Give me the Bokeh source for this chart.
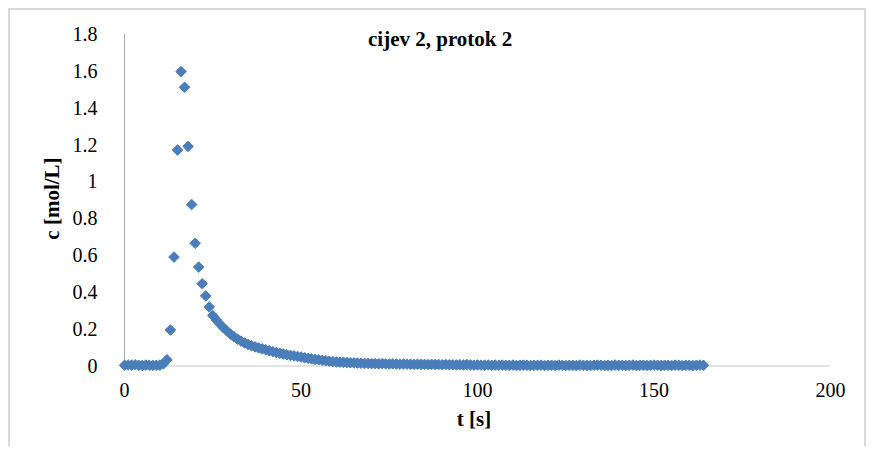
import numpy as np
from bokeh.plotting import figure
from bokeh.models import Range1d, FixedTicker, Label
from bokeh.embed import file_html
from bokeh.resources import INLINE

# ---- data ----
c = [
    0.004, 0.006, 0.005, 0.007, 0.004, 0.003, 0.005, 0.004, 0.003, 0.004, 0.005, 0.012,   # 0-11
    0.034, 0.195, 0.590, 1.170, 1.595, 1.510, 1.190, 0.875, 0.665, 0.536, 0.446, 0.380,   # 12-23
    0.320, 0.273, 0.250, 0.228, 0.208, 0.190, 0.173, 0.158, 0.146, 0.135, 0.125, 0.117,   # 24-35
    0.110, 0.104, 0.098, 0.093, 0.088, 0.083, 0.078, 0.073, 0.069, 0.065, 0.061, 0.058,   # 36-47
    0.055, 0.052, 0.049, 0.045, 0.042, 0.039, 0.036, 0.034, 0.031, 0.029, 0.026, 0.024,   # 48-59
    0.022, 0.021, 0.020, 0.019, 0.018, 0.017, 0.016, 0.015, 0.014, 0.014, 0.013,          # 60-70
    0.013, 0.012, 0.013, 0.012, 0.011, 0.012, 0.011, 0.010, 0.011, 0.010, 0.010, 0.009,   # 71-82
    0.010, 0.009, 0.009, 0.008, 0.009,                                                    # 83-87
    0.008, 0.008, 0.007, 0.008, 0.007, 0.007, 0.006, 0.007, 0.006, 0.008, 0.006, 0.005,   # 88-99
    0.006, 0.005, 0.005, 0.006, 0.004, 0.005, 0.004,                                      # 100-106
    0.005, 0.004, 0.004, 0.005, 0.003, 0.004, 0.005, 0.004, 0.003, 0.004, 0.004, 0.005,   # 107-118
    0.003, 0.004, 0.004, 0.003, 0.005, 0.004, 0.003, 0.004, 0.004, 0.003, 0.005, 0.004,   # 119-130
    0.003, 0.003, 0.004, 0.005, 0.004, 0.003, 0.004, 0.003, 0.005, 0.004, 0.004, 0.003,   # 131-142
    0.004, 0.005, 0.003, 0.004, 0.004, 0.003, 0.004, 0.005, 0.004, 0.003, 0.004, 0.004,   # 143-154
    0.003, 0.005, 0.004, 0.003, 0.004, 0.004, 0.003, 0.004, 0.005, 0.004,                 # 155-164
]
t = list(range(0, len(c)))

x_ticks = [0, 50, 100, 150, 200]
y_ticks = [0, 0.2, 0.4, 0.6, 0.8, 1.0, 1.2, 1.4, 1.6, 1.8]
y_tick_labels = ["0", "0.2", "0.4", "0.6", "0.8", "1", "1.2", "1.4", "1.6", "1.8"]
x_min, x_max = 0, 200
y_min, y_max = 0, 1.8

title_text = "cijev 2, protok 2"
x_label = "t [s]"
y_label = "c [mol/L]"

FONT = "Liberation Serif"
BLUE = "#4a7ebb"

p = figure(
    width=858, height=438,
    x_range=Range1d(-2, x_max), y_range=Range1d(-0.035, 1.85),
    output_backend="svg", toolbar_location=None,
    min_border_left=107, min_border_right=38,
    min_border_top=14, min_border_bottom=76,
)
p.styles = {"margin-left": "8px", "margin-top": "8px",
            "border-left": "2px solid #d9d9d9", "border-top": "2px solid #d9d9d9",
            "border-right": "2px solid #d9d9d9"}
p.outline_line_color = None
p.grid.visible = False
p.background_fill_color = "white"
p.border_fill_color = "white"

# axis lines (drawn at zero, like Excel)
p.segment(x0=[x_min], y0=[y_min], x1=[x_max], y1=[y_min], line_color="#c8c8c8", line_width=1)
p.segment(x0=[x_min], y0=[y_min], x1=[x_min], y1=[y_max], line_color="#a8a8a8", line_width=1)

p.scatter(t, c, marker="square", angle=np.pi / 4, size=7.5,
          fill_color=BLUE, line_color=BLUE)

for ax in (p.xaxis[0], p.yaxis[0]):
    ax.axis_line_color = None
    ax.major_tick_line_color = None
    ax.minor_tick_line_color = None
    ax.major_label_text_font = FONT
    ax.major_label_text_font_size = "20px"
    ax.major_label_text_color = "black"
    ax.axis_label_text_font = FONT
    ax.axis_label_text_font_style = "bold"
    ax.axis_label_text_font_size = "21px"
    ax.axis_label_text_color = "black"

p.xaxis.ticker = FixedTicker(ticks=x_ticks)
p.yaxis.ticker = FixedTicker(ticks=y_ticks)
p.yaxis.major_label_overrides = {v: s for v, s in zip(y_ticks, y_tick_labels)}
p.xaxis.major_label_standoff = 4
p.yaxis.major_label_standoff = 14

p.xaxis.axis_label = x_label
p.xaxis.axis_label_standoff = 7
p.yaxis.axis_label = y_label
p.yaxis.axis_label_standoff = 6

p.add_layout(Label(x=89.4, y=1.77, text=title_text, text_align="center",
                   text_baseline="alphabetic", text_font=FONT,
                   text_font_style="bold", text_font_size="21px", text_color="black"))

open("out.html", "w").write(file_html(p, INLINE))
